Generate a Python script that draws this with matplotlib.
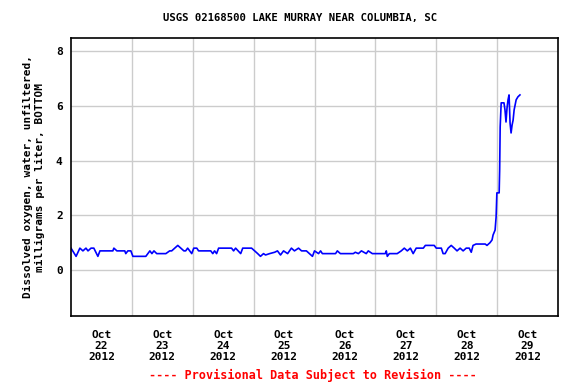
import matplotlib
matplotlib.use("Agg")
import matplotlib.pyplot as plt

# hours since Oct 22 2012 00:00
hours = [0, 2.0, 3.5, 4.7, 5.9, 6.7, 7.9, 9.0, 10.6, 11.4, 16.5, 16.9, 18.1, 21.2, 21.6,
         22.4, 23.6, 24.4, 29.5, 30.3, 31.1, 31.9, 32.7, 33.8, 37.4, 38.9, 39.7, 40.9,
         42.1, 43.3, 44.5, 45.2, 46.0, 47.6, 48.4, 49.6, 50.3, 55.1, 55.9, 56.6, 57.4,
         58.2, 60.2, 61.0, 63.3, 64.1, 64.9, 66.9, 67.7, 71.2, 72.4, 73.6, 74.7, 75.9,
         76.7, 78.3, 80.3, 81.4, 82.6, 83.8, 85.4, 86.9, 88.1, 89.7, 90.9, 92.8, 94.0,
         95.2, 96.0, 97.6, 98.4, 99.1, 104.3, 105.0, 106.2, 111.3, 112.1, 113.3, 114.5,
         116.4, 117.2, 118.8, 123.9, 124.3, 124.7, 125.5, 128.6, 130.2, 131.4, 132.6,
         133.8, 134.9, 136.1, 138.9, 139.7, 143.2, 144.0, 146.0, 146.7, 147.5, 148.7,
         149.9, 151.1, 152.2, 153.4, 154.6, 155.8, 157.0, 157.8, 158.5, 159.7, 163.3,
         164.0, 165.2, 166.0, 166.4, 167.2, 167.6, 167.9, 168.8, 169.0, 169.2, 169.6,
         170.7, 171.1, 171.5, 171.9, 172.3, 172.7, 173.1, 173.5, 173.9, 174.3, 174.7,
         175.5, 176.2, 177.0]
# dissolved oxygen, mg/L
oxygen = [0.8, 0.5, 0.8, 0.7, 0.8, 0.7, 0.8, 0.8, 0.5, 0.7, 0.7, 0.8, 0.7, 0.7, 0.6,
          0.7, 0.7, 0.5, 0.5, 0.6, 0.7, 0.6, 0.7, 0.6, 0.6, 0.7, 0.7, 0.8,
          0.9, 0.8, 0.7, 0.7, 0.8, 0.6, 0.8, 0.8, 0.7, 0.7, 0.6, 0.7, 0.6,
          0.8, 0.8, 0.8, 0.8, 0.7, 0.8, 0.6, 0.8, 0.8, 0.7, 0.6, 0.5, 0.6,
          0.55, 0.6, 0.65, 0.7, 0.55, 0.7, 0.6, 0.8, 0.7, 0.8, 0.7, 0.7, 0.6,
          0.5, 0.7, 0.6, 0.7, 0.6, 0.6, 0.7, 0.6, 0.6, 0.65, 0.6, 0.7,
          0.6, 0.7, 0.6, 0.6, 0.7, 0.5, 0.6, 0.6, 0.7, 0.8, 0.7,
          0.8, 0.6, 0.8, 0.8, 0.9, 0.9, 0.8, 0.8, 0.6, 0.6, 0.8,
          0.9, 0.8, 0.7, 0.8, 0.7, 0.8, 0.8, 0.65, 0.9, 0.95, 0.95,
          0.9, 1.0, 1.1, 1.28, 1.46, 1.94, 2.82, 2.82, 3.66, 5.23, 6.11,
          6.11, 5.85, 5.41, 5.92, 6.22, 6.40, 5.37, 5.01, 5.30, 5.48, 5.85,
          6.22, 6.33, 6.40]

day_labels = ["Oct\n22\n2012", "Oct\n23\n2012", "Oct\n24\n2012", "Oct\n25\n2012",
              "Oct\n26\n2012", "Oct\n27\n2012", "Oct\n28\n2012", "Oct\n29\n2012"]
y_ticks = [0, 2, 4, 6, 8]

font = "DejaVu Sans Mono"

fig = plt.figure(figsize=(5.76, 3.84), dpi=100)
ax = fig.add_axes([71 / 576, 68 / 384, 487 / 576, 278 / 384])

ax.plot(hours, oxygen, color="#0000ff", lw=1.2)

ax.set_xlim(0, 192)
ax.set_ylim(-1.68, 8.48)

ax.set_xticks([12 + 24 * i for i in range(len(day_labels))])
ax.set_xticklabels(day_labels, fontfamily=font, fontweight="bold", fontsize=8,
                   linespacing=1.15)
ax.set_xticks([24 * i for i in range(1, 8)], minor=True)
ax.set_yticks(y_ticks)
ax.set_yticklabels([str(v) for v in y_ticks], fontfamily=font, fontweight="bold",
                   fontsize=8)
ax.tick_params(which="both", length=0)
ax.tick_params(axis="x", pad=10)
ax.tick_params(axis="y", pad=6)

ax.grid(True, which="minor", axis="x", color="#cccccc", lw=1)
ax.grid(True, which="major", axis="y", color="#cccccc", lw=1)
ax.set_axisbelow(True)
for s in ax.spines.values():
    s.set_linewidth(1.2)

ax.set_ylabel("Dissolved oxygen, water, unfiltered,\nmilligrams per liter, BOTTOM",
              fontfamily=font, fontweight="bold", fontsize=8, labelpad=8)

fig.text(300 / 576, 1 - 18 / 384, "USGS 02168500 LAKE MURRAY NEAR COLUMBIA, SC",
         ha="center", va="center", fontfamily=font, fontweight="bold", fontsize=7.7)
fig.text(313 / 576, 1 - 375 / 384, "---- Provisional Data Subject to Revision ----",
         ha="center", va="center", fontfamily=font, fontweight="bold", fontsize=8.5,
         color="#ff0000")

fig.savefig("out.png", dpi=100)
